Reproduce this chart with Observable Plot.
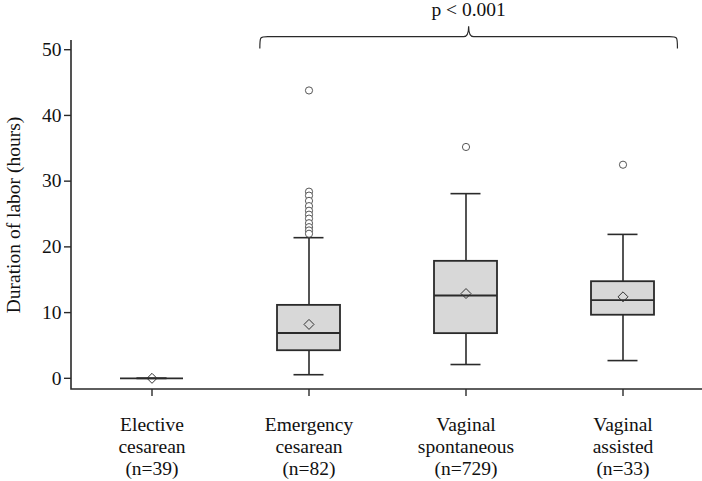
<!DOCTYPE html>
<html><head><meta charset="utf-8">
<script src="https://cdn.jsdelivr.net/npm/d3@7"></script>
<script src="https://cdn.jsdelivr.net/npm/@observablehq/plot@0.6"></script>
<style>html,body{margin:0;padding:0;background:#fff} svg{display:block}</style>
</head><body><div id="chart"></div>
<script>
const categories = ["Elective cesarean", "Emergency cesarean", "Vaginal spontaneous", "Vaginal assisted"];
const tickLabels = ["Elective\ncesarean\n(n=39)", "Emergency\ncesarean\n(n=82)", "Vaginal\nspontaneous\n(n=729)", "Vaginal\nassisted\n(n=33)"];
const q1 = [0, 4.2, 6.8, 9.6];
const median = [0, 6.9, 12.6, 11.9];
const q3 = [0, 11.1, 17.8, 14.7];
const whiskerLow = [0, 0.55, 2.1, 2.7];
const whiskerHigh = [0, 21.4, 28.1, 21.9];
const mean = [0, 8.2, 12.9, 12.4];
const outlierGroup = ["Emergency cesarean","Emergency cesarean","Emergency cesarean","Emergency cesarean","Emergency cesarean","Emergency cesarean","Emergency cesarean","Emergency cesarean","Emergency cesarean","Emergency cesarean","Emergency cesarean","Emergency cesarean","Vaginal spontaneous","Vaginal assisted"];
const outlierValue = [43.8, 28.4, 27.8, 27.0, 26.2, 25.5, 24.9, 24.3, 23.6, 23.0, 22.5, 22.0, 35.2, 32.5];
const yTicks = [0, 10, 20, 30, 40, 50];
const bracketFrom = "Emergency cesarean";
const bracketTo = "Vaginal assisted";
const pLabel = "p < 0.001";
const yLabel = "Duration of labor (hours)";

const boxes = categories.map((c, i) => ({group: c, q1: q1[i], median: median[i], q3: q3[i], lo: whiskerLow[i], hi: whiskerHigh[i], mean: mean[i]}));
const outliers = outlierGroup.map((g, i) => ({group: g, value: outlierValue[i]}));
const labelOf = new Map(categories.map((c, i) => [c, tickLabels[i]]));

const font = "'Liberation Serif', 'Times New Roman', serif";
const ink = "#2a2a2a";
const fs = 19.5;

function annotation(index, scales, values, dim) {
  const ns = "http://www.w3.org/2000/svg";
  const x = scales.x, y = scales.y;
  const bw = x.bandwidth ? x.bandwidth() : (dim.width - dim.marginLeft - dim.marginRight) / categories.length;
  const g = document.createElementNS(ns, "g");
  const left = dim.marginLeft, bottom = dim.height - dim.marginBottom;
  const axes = document.createElementNS(ns, "path");
  axes.setAttribute("d", `M${left},${dim.marginTop}V${bottom}H${dim.width - dim.marginRight}`);
  axes.setAttribute("fill", "none");
  axes.setAttribute("stroke", ink);
  axes.setAttribute("stroke-width", 1.6);
  g.appendChild(axes);
  const L = x(bracketFrom) + bw * 0.19;
  const R = x(bracketTo) + bw * 0.85;
  const C = (L + R) / 2;
  const yl = y(51.9), ye = y(50.1), yn = y(53.5);
  const p = document.createElementNS(ns, "path");
  p.setAttribute("d", `M${L},${ye}C${L},${yl} ${L},${yl} ${L + 8},${yl}H${C - 5}Q${C},${yl} ${C},${yn}Q${C},${yl} ${C + 5},${yl}H${R - 8}C${R},${yl} ${R},${yl} ${R},${ye}`);
  p.setAttribute("fill", "none");
  p.setAttribute("stroke", ink);
  p.setAttribute("stroke-width", 1.2);
  g.appendChild(p);
  const t = document.createElementNS(ns, "text");
  t.setAttribute("x", C);
  t.setAttribute("y", y(55.0));
  t.setAttribute("text-anchor", "middle");
  t.setAttribute("font-family", font);
  t.setAttribute("font-size", fs);
  t.setAttribute("fill", "#111");
  t.textContent = pLabel;
  g.appendChild(t);
  return g;
}

const chart = Plot.plot({
  width: 702,
  height: 481,
  marginLeft: 71,
  marginRight: 0,
  marginTop: 40,
  marginBottom: 92,
  style: {fontFamily: font, fontSize: fs + "px", color: "#111", background: "#fff"},
  x: {domain: categories, padding: 0, label: null},
  y: {domain: [-1.7, 51.4], label: null},
  marks: [
    Plot.axisY({ticks: yTicks, tickSize: 7, tickPadding: 3, fontSize: fs, stroke: ink, strokeWidth: 1.4, label: yLabel, labelAnchor: "center", labelArrow: "none", labelOffset: 65}),
    Plot.axisX({tickSize: 7, tickPadding: 19, fontSize: fs, lineHeight: 1.12, stroke: ink, strokeWidth: 1.4, tickFormat: d => labelOf.get(d), label: null}),
    Plot.ruleX(boxes, {x: "group", y1: "lo", y2: "hi", stroke: ink, strokeWidth: 1.6}),
    Plot.tickY(boxes, {x: "group", y: "lo", stroke: ink, strokeWidth: 1.6, insetLeft: 63.5, insetRight: 63.5}),
    Plot.tickY(boxes, {x: "group", y: "hi", stroke: ink, strokeWidth: 1.6, insetLeft: 63.5, insetRight: 63.5}),
    Plot.barY(boxes, {x: "group", y1: "q1", y2: "q3", fill: "#d8d8d8", stroke: ink, strokeWidth: 1.8, insetLeft: 47, insetRight: 47}),
    Plot.tickY(boxes, {x: "group", y: "median", stroke: ink, strokeWidth: 1.8, insetLeft: 47, insetRight: 47}),
    Plot.dot(boxes, {x: "group", y: "mean", symbol: "diamond2", r: 4.5, stroke: "#333", strokeWidth: 1, fill: "none"}),
    Plot.dot(outliers, {x: "group", y: "value", r: 3.6, stroke: "#444", strokeWidth: 0.9, fill: "#fff"}),
    annotation
  ]
});
document.getElementById("chart").appendChild(chart);
</script>
</body></html>
